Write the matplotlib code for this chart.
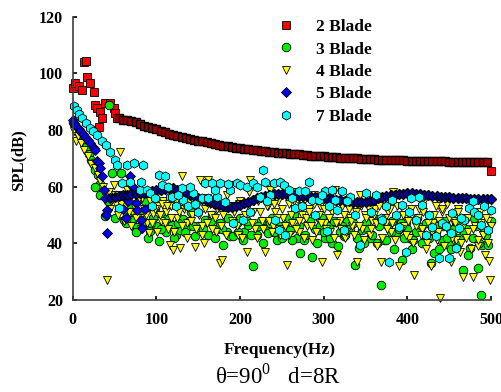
import matplotlib
matplotlib.use('Agg')
import matplotlib.pyplot as plt

plt.rcParams['font.family'] = ['Liberation Serif', 'DejaVu Serif']
plt.rcParams['font.weight'] = 'bold'
plt.rcParams['mathtext.fontset'] = 'custom'
plt.rcParams['mathtext.rm'] = 'Liberation Serif:weight=normal'

# ---- data ----
# 2 Blade: scattered start, then the dense curve, then the last point
red_f0 = [0, 3, 7, 11, 13, 15.5, 17, 21, 25, 27, 29, 31, 33, 35, 39, 45, 49, 51, 53]
red_s0 = [94.8, 96.6, 95.4, 94.2, 104.2, 104.3, 98.9, 96.6, 93.6, 88.9, 87.7, 81.2, 86.5, 84.2, 89.5,
          89.5, 87.7, 86.0, 84.2]
red_f = list(range(55, 500, 5))
red_s = [84.2, 83.7, 83.4, 83.1, 82.8, 82.2, 81.6, 81.1, 80.7, 80.3,
         79.8, 79.2, 78.6, 78.1, 77.8, 77.5, 77.2, 76.9, 76.6, 76.3,
         76.0, 75.7, 75.4, 75.1, 74.8, 74.5, 74.2, 74.0, 73.8, 73.6,
         73.4, 73.2, 73.0, 72.8, 72.7, 72.5, 72.3, 72.2, 72.0, 71.9,
         71.8, 71.6, 71.5, 71.4, 71.2, 71.1, 71.0, 70.9, 70.8, 70.7,
         70.6, 70.5, 70.4, 70.3, 70.2, 70.1, 70.0, 70.0, 69.9, 69.8,
         69.7, 69.7, 69.6, 69.5, 69.5, 69.4, 69.4, 69.3, 69.3, 69.2,
         69.2, 69.1, 69.1, 69.0, 69.0, 69.0, 68.9, 68.9, 68.9, 68.8,
         68.8, 68.8, 68.7, 68.7, 68.7, 68.7, 68.6, 68.6, 68.6]
red_f1 = [500]
red_s1 = [65.4]

# 3 Blade
g_f = [0, 2, 4, 7, 10, 13, 16, 19, 22, 24,
       27, 30, 33, 36, 38, 43, 47, 50, 55, 58,
       61, 65, 68, 71, 74, 77, 80, 84, 88, 92,
       96, 100, 103, 107, 111, 115, 119, 123, 128, 132,
       136, 141, 146, 150, 153, 158, 162, 167, 172, 176,
       180, 184, 188, 192, 196, 200, 205, 210, 216, 220,
       225, 230, 234, 238, 244, 248, 252, 256, 260, 264,
       268, 272, 276, 281, 286, 290, 294, 298, 302, 306,
       310, 314, 319, 324, 328, 332, 337, 342, 346, 350,
       355, 360, 364, 368, 372, 377, 382, 386, 390, 394,
       398, 402, 407, 412, 416, 420, 424, 428, 432, 436,
       440, 445, 450, 454, 458, 462, 466, 470, 475, 480,
       484, 488, 489, 492, 496, 500, 26, 32, 42, 52,
       57, 63, 86, 98]
g_s = [83, 82, 80.5, 79, 77.5, 76, 74, 71.5, 69.5, 68.3,
       66, 64, 61, 58, 49.5, 89, 64.8, 48.9, 52, 64.8,
       48.3, 50, 53, 48.3, 45.9, 45.9, 50.5, 47, 52, 44.5,
       49, 46, 40.8, 50, 44, 47.5, 46.5, 43, 44.7, 48.5,
       45.9, 51, 42.5, 46, 44.2, 48.3, 43, 50, 45, 47.1,
       39.4, 44, 42.4, 42.4, 47.1, 49, 44, 46.5, 31.8, 43,
       48, 45.5, 43.6, 49, 41.2, 46, 44, 47.7, 44.7, 50,
       42, 36.4, 41.2, 47, 35.3, 45, 44.7, 49, 42, 46,
       40, 47.5, 44, 42.4, 48, 45, 32.4, 38.2, 44.7, 47,
       42, 49, 40, 25.3, 41.2, 46, 48, 43.6, 45, 34.1,
       47, 42, 41.2, 49, 45.9, 43, 47, 33, 36.4, 46,
       41.2, 48, 39.4, 44, 47, 42, 30.6, 45, 38.2, 49,
       31.2, 21.8, 39.4, 44.7, 39.4, 47.7, 60, 57, 55, 57,
       53.5, 56, 55, 52]
g2_f = [64, 70, 76, 82, 90, 94, 105, 113, 121, 126,
        134, 139, 144, 156, 165, 170, 178, 186, 198, 203,
        208, 213, 222, 228, 236, 241, 250, 258, 262, 270,
        278, 284, 292, 296, 300, 308, 312, 317, 322, 326,
        335, 340, 348, 353, 358, 366, 375, 380, 384, 392,
        396, 400, 405, 410, 418, 422, 426, 434, 438, 443,
        448, 452, 456, 460, 468, 473, 478, 482, 486, 494]
g2_s = [47, 51, 44, 49, 42, 47, 45, 49, 42, 47,
        44, 48, 46, 45, 48, 42, 45, 49, 44, 41,
        48, 43, 46, 40, 47, 44, 42, 49, 41, 46,
        43, 48, 40, 46, 44, 42, 48, 39, 46, 43,
        47, 42, 40, 45, 43, 46, 41, 44, 38, 47,
        42, 45, 38, 44, 40, 47, 42, 44, 38, 46,
        42, 38, 45, 40, 44, 36, 42, 46, 40, 43]

# 4 Blade
y_f = [0, 2, 4, 6, 10, 14, 18, 22, 26, 30,
       33, 36, 38, 40.6, 43, 46, 49, 52, 56.6, 59,
       62, 65, 68, 71, 74, 77, 80, 83, 86, 89,
       90.6, 93, 96, 99, 102, 105, 108, 111, 114, 116.5,
       118, 120, 122, 125, 128.5, 130.5, 133, 136, 139, 142,
       146.5, 149, 152, 155, 157, 160, 162, 165, 168, 171,
       175.5, 178, 181, 184, 188, 191, 194, 197, 200, 204,
       208, 211, 212, 215, 218, 222, 226, 230, 233, 236,
       239, 242, 245, 248, 251, 256, 259, 262, 265, 268,
       271, 274, 277, 280, 283, 286, 289, 292, 295, 298,
       301, 304, 307, 310, 313, 316, 319, 322, 325, 328,
       331, 334, 337, 340, 343, 346, 349, 352, 355, 358,
       361, 364, 368, 371, 374, 377, 380, 383, 386, 390,
       393, 396, 399, 402, 405, 408, 411, 414, 417, 420,
       423, 426, 428, 431, 434, 437, 439, 442, 445, 448,
       452, 455, 458, 461, 463, 466, 469, 472, 475, 478,
       481, 484, 487, 490, 493, 496, 498, 499]
y_s = [81.5, 79.8, 76, 78, 75.5, 73, 71, 68, 66.5, 64,
       62, 60, 57, 27.1, 58, 55, 60.5, 54, 72.4, 57,
       53, 59, 56, 51, 58, 54, 49, 56, 52, 47,
       43.6, 55, 50.5, 57, 53, 48, 55, 51, 45, 39.4,
       53, 37.6, 57, 49, 38.2, 63.6, 52, 47, 55, 50,
       38.8, 53, 62.4, 46, 40, 56, 62.4, 50, 54, 44,
       33, 34.1, 52, 57, 60.6, 47, 53, 43, 55, 49,
       37, 58, 62.4, 51, 45, 55, 48, 37, 53, 59,
       46, 51, 55, 43, 49, 32.4, 54, 47, 52, 58,
       44, 50, 55, 46, 52, 41, 57, 49, 53, 33.5,
       47, 56, 44, 51, 59, 35.9, 48, 53, 42, 55,
       49, 46, 52, 33.5, 57, 45, 50, 54, 43, 48,
       52, 39, 33.5, 55, 47, 51, 44, 58, 49, 31.8,
       53, 46, 50, 42, 56, 28.8, 48, 52, 45, 55,
       40, 50, 31.8, 47, 53, 44, 20.6, 51, 46, 54,
       33.5, 48, 41, 52, 37, 28, 49, 44, 55, 28.2,
       46, 39, 51, 43, 36, 48, 33.9, 27.1]
y2_f = [45, 51, 54, 58, 61, 64, 67, 70, 73, 76,
        79, 82, 85, 88, 92, 95, 98, 101, 104, 107,
        110, 113, 117, 121, 124, 127, 131, 134, 137, 141,
        144, 147, 151, 154, 158, 161, 164, 167, 170, 173,
        177, 180, 183, 186, 190, 193, 196, 199, 202, 206,
        210, 214, 217, 220, 224, 228, 232, 235, 238, 241,
        244, 247, 250, 254, 258, 261, 264, 267, 270, 273,
        276, 279, 282, 285, 288, 291, 294, 297, 300, 303,
        306, 309, 312, 315, 318, 321, 324, 327, 330, 333,
        336, 339, 342, 345, 348, 351, 354, 357, 360, 363,
        366, 370, 373, 376, 379, 382, 385, 388, 392, 395,
        398, 401, 404, 407, 410, 413, 416, 419, 422, 425,
        429, 432, 435, 438, 441, 444, 447, 450, 454, 457,
        460, 464, 467, 470, 473, 476, 479, 482, 485, 488,
        491, 494, 497, 500]
y2_s = [52, 57, 50, 54, 48, 55, 51, 46, 53, 49,
        56, 45, 52, 50, 55, 47, 52, 44, 50, 54,
        47, 53, 49, 44, 55, 51, 46, 53, 42, 48,
        55, 45, 50, 43, 52, 47, 54, 45, 49, 52,
        46, 50, 43, 53, 48, 51, 46, 54, 42, 50,
        53, 47, 55, 42, 51, 45, 53, 48, 44, 54,
        49, 45, 52, 46, 43, 50, 55, 45, 48, 53,
        42, 49, 51, 46, 54, 44, 50, 47, 52, 45,
        49, 53, 42, 47, 55, 45, 50, 44, 52, 48,
        43, 51, 46, 53, 41, 49, 52, 45, 50, 47,
        53, 42, 49, 45, 52, 47, 41, 53, 45, 50,
        43, 48, 52, 40, 46, 49, 43, 51, 38, 47,
        44, 50, 41, 48, 52, 39, 45, 49, 42, 47,
        51, 40, 46, 42, 49, 38, 45, 50, 41, 47,
        43, 49, 40, 46]

# 5 Blade: scattered start, then the dense curve
b_f0 = [0, 2, 4, 7, 9, 12, 15, 18, 21, 25, 27, 29, 31, 33, 35, 37, 39, 41, 39.5, 40.5,
        60, 64, 66, 69, 72, 75, 77, 81, 83, 86]
b_s0 = [83.6, 82.5, 81.5, 80.5, 79.5, 78.5, 77.7, 76.5, 75.4, 73.6, 73, 69, 68.3, 66.5, 63.6,
        58.9, 56, 51.8, 50, 43.6, 52, 49, 55, 63.6, 60, 54.3, 51.8, 48.3, 45.4, 52]
b_f = list(range(45, 501, 5))
b_s = [56.0, 56.5, 56.8, 57.0, 57.2, 57.3, 57.5, 57.7, 57.9, 58.1,
       58.4, 58.7, 59.0, 59.3, 59.5, 59.4, 59.0, 58.4, 57.8, 57.2,
       56.6, 56.1, 55.6, 55.1, 54.5, 53.9, 53.4, 53.0, 52.8, 52.9,
       53.2, 53.6, 54.1, 54.7, 55.3, 55.9, 56.4, 56.8, 57.1, 57.3,
       57.4, 57.4, 57.3, 57.1, 56.9, 56.8, 56.7, 56.6, 56.5, 56.3,
       56.1, 55.9, 55.7, 55.5, 55.3, 55.2, 55.0, 54.8, 54.7, 54.6,
       54.5, 54.6, 54.9, 55.4, 55.9, 56.3, 56.7, 57.0, 57.2, 57.4,
       57.5, 57.6, 57.6, 57.5, 57.4, 57.2, 57.0, 56.8, 56.6, 56.4,
       56.3, 56.2, 56.1, 56.0, 55.9, 55.9, 55.8, 55.8, 55.7, 55.7,
       55.7, 55.7]

# 7 Blade
c_f = [1.5, 5, 8, 11, 16, 20, 24, 29, 35, 40,
       45, 51, 53, 55, 58.6, 65, 68.6, 72.6, 80.6, 81,
       84.5, 88.6, 92.6, 94.6, 102.5, 106.6, 110.5, 116, 118.6, 124,
       130, 132, 138, 144, 150, 154, 158, 162, 166, 172,
       176, 182, 188, 192, 196, 200, 204, 208, 212, 216,
       224, 228, 230, 236, 240, 242, 246, 248, 252, 254,
       258, 266, 270, 274, 278, 282, 286, 290, 294, 302,
       304, 310, 314, 316, 322, 324, 332, 338, 344, 350,
       362, 368, 370, 378, 382, 390, 394, 398, 404, 410,
       414, 418, 422, 426, 430, 434, 438, 442, 450, 452,
       454, 458, 462, 468, 474, 480, 484, 488, 496, 500,
       98, 114, 126, 140, 146, 170, 186, 220, 232, 262,
       298, 306, 328, 356, 374, 386, 402, 446, 464, 478, 492]
c_s = [88.6, 87, 85.5, 84.2, 82.4, 80.7, 79.5, 78.3, 76, 74.8,
       72.4, 69.5, 67.7, 52.4, 61.2, 67.7, 61.5, 68.3, 58.9, 61.8,
       67.7, 58.9, 57.7, 53, 64.2, 60.6, 63.6, 56.5, 56.5, 53,
       59.5, 55.3, 53, 57.7, 51.2, 55.9, 61.2, 55.9, 61.2, 56.5,
       61.2, 54.7, 58.9, 47.1, 61.2, 60.6, 48.3, 60, 51.2, 61.2,
       56.5, 66, 61.8, 57.1, 61.2, 48.3, 44.7, 61.5, 60.5, 43,
       58.9, 52.4, 58.3, 53, 58.3, 61.5, 55.3, 50, 55.3, 58.3,
       44.2, 58.9, 55.3, 51.8, 58.3, 44.7, 56.5, 50, 39.4, 57.7,
       57.1, 48.9, 48.3, 33.5, 55.3, 45.9, 53.6, 37, 55.9, 48.3,
       56.5, 53.6, 43, 50, 45.9, 42.4, 34.7, 47.1, 34.7, 43.6,
       50.6, 38.2, 45.3, 48.3, 52.4, 51.2, 50, 46.5, 44.7, 51.8,
       56, 60, 57, 60, 54, 59, 61, 60, 55, 56,
       57, 53, 55, 51, 53, 50, 51, 46, 49, 55, 53]

xticks = [0, 100, 200, 300, 400, 500]
yticks = [20, 40, 60, 80, 100, 120]

# ---- plot ----
fig = plt.figure(figsize=(5.02, 3.92), dpi=100)
ax = fig.add_axes([0.145, 0.235, 0.833, 0.722])

ms = 6.2
kw = dict(ls='none', mec='black', mew=0.6, ms=ms, clip_on=False)

ax.plot(red_f0, red_s0, marker='s', mfc='#ff0000', label='2 Blade', **kw)
ax.plot(red_f, red_s, marker='s', mfc='#a00000', **dict(kw, mew=1.0))
ax.plot(red_f1, red_s1, marker='s', mfc='#ff0000', **kw)

ax.plot(g_f, g_s, marker='o', mfc='#00ee00', label='3 Blade', **kw)
ax.plot(g2_f, g2_s, marker='o', mfc='#00ee00', **kw)
ax.plot(y_f, y_s, marker='v', mfc='#ffff00', label='4 Blade', **kw)
ax.plot(y2_f, y2_s, marker='v', mfc='#ffff00', **kw)

ax.plot(b_f0, b_s0, marker='D', mfc='#0000ee', label='5 Blade', **dict(kw, ms=5.4))
ax.plot(b_f, b_s, marker='D', mfc='#0000b8', **dict(kw, ms=5.4, mew=1.0))

ax.plot(c_f, c_s, marker='h', mfc='#00ffff', label='7 Blade', **dict(kw, ms=6.6))

ax.set_xlim(0, 500)
ax.set_ylim(20, 120)
ax.set_xticks(xticks)
ax.set_yticks(yticks)
ax.tick_params(direction='in', length=3, width=1.2, labelsize=11.5, pad=7)
ax.tick_params(axis='x', pad=9)
for s in ['top', 'right']:
    ax.spines[s].set_visible(False)
for s in ['left', 'bottom']:
    ax.spines[s].set_linewidth(1.2)
    ax.spines[s].set_color('#404040')

fig.text(18 / 502, 1 - 160 / 392, 'SPL(dB)', rotation=90, ha='center', va='center',
         fontsize=12, fontweight='bold')
fig.text(280 / 502, 1 - 350 / 392, 'Frequency(Hz)', ha='center', va='center',
         fontsize=12.5, fontweight='bold')
fig.text(278 / 502, 1 - 376 / 392, r'θ=90$^{0}$   d=8R', ha='center', va='center',
         fontsize=16.5, fontweight='normal')

ax.legend(loc='upper left', bbox_to_anchor=(277 / 502, 1 - 19 / 392),
          bbox_transform=fig.transFigure, frameon=False, fontsize=12.5,
          borderpad=0, borderaxespad=0, handlelength=1.0, handletextpad=1.25,
          labelspacing=0.36, numpoints=1)

fig.savefig('out.png', dpi=100)
